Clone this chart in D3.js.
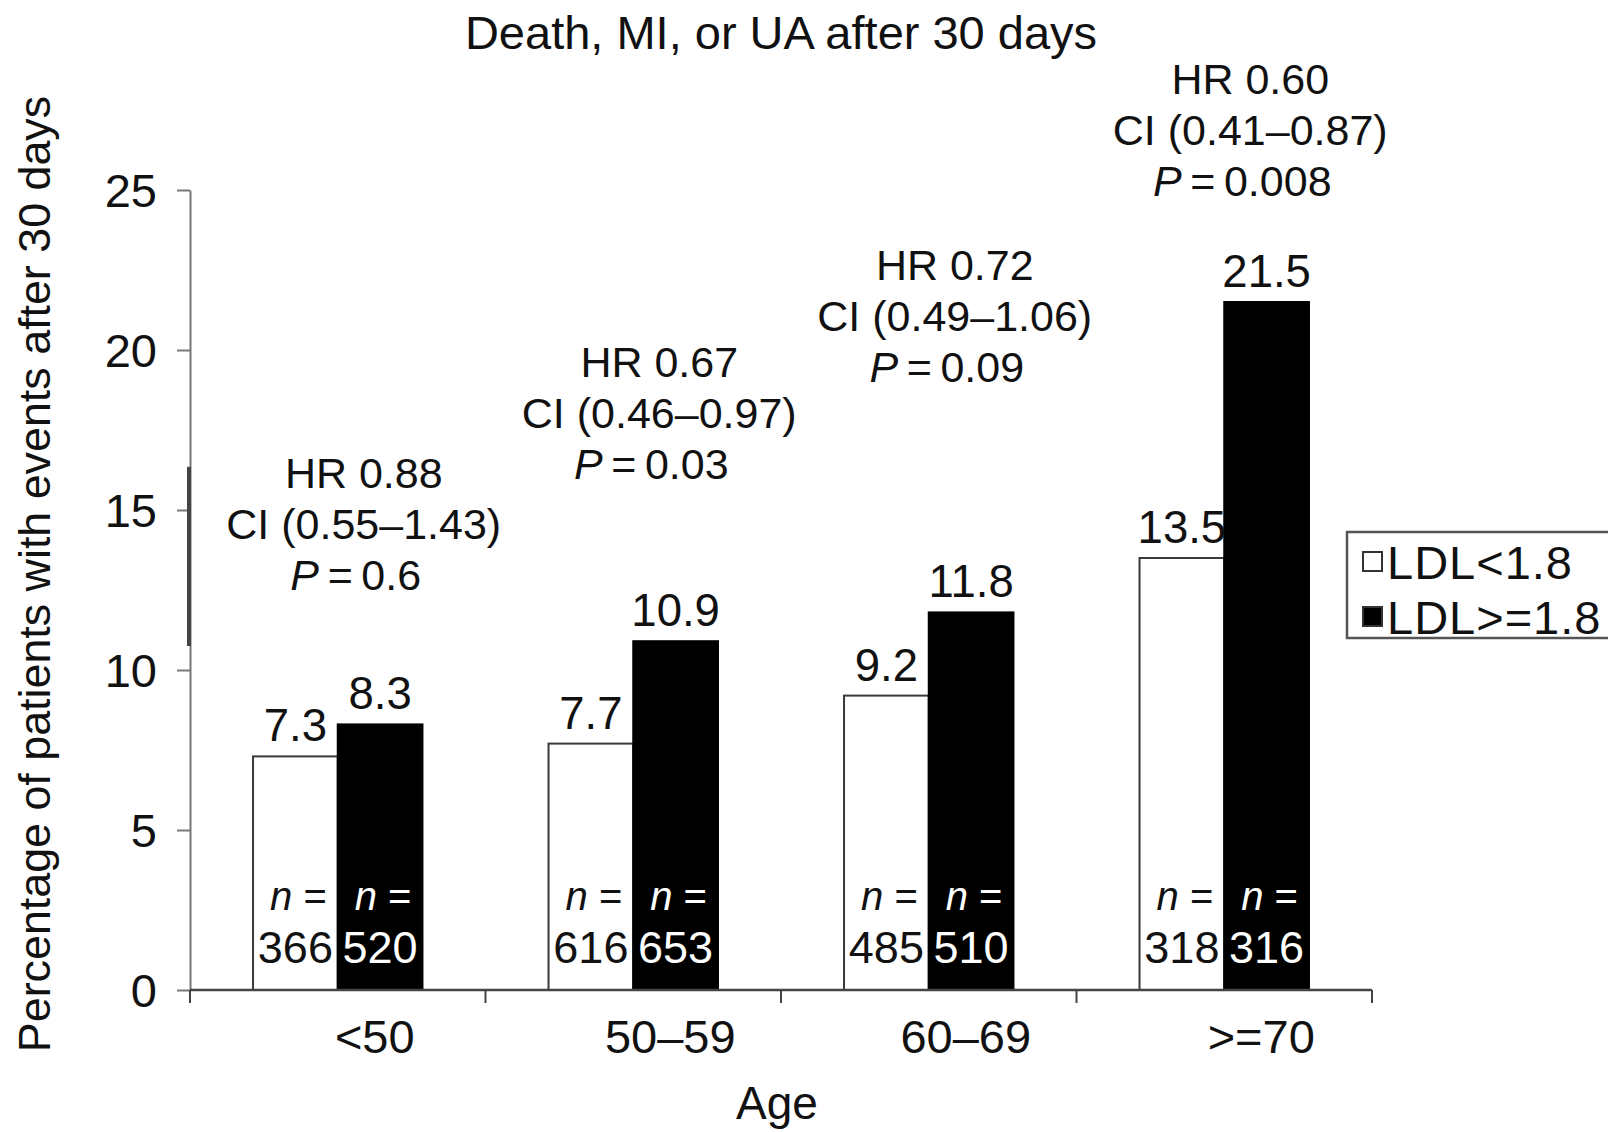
<!DOCTYPE html>
<html>
<head>
<meta charset="utf-8">
<script src="https://cdn.jsdelivr.net/npm/d3@7"></script>
<style>
  body { margin: 0; background: #fff; }
  svg { display: block; font-family: "Liberation Sans", Arial, Helvetica, sans-serif; }
</style>
</head>
<body>
<div id="chart"></div>
<script>
// Data
let ages = ['<50', '50\u201359', '60\u201369', '>=70']
let series = ['LDL<1.8', 'LDL>=1.8']
let lowValues = [7.3, 7.7, 9.2, 13.5]
let highValues = [8.3, 10.9, 11.8, 21.5]
let lowN = [366, 616, 485, 318]
let highN = [520, 653, 510, 316]
let hrText = ['HR 0.88', 'HR 0.67', 'HR 0.72', 'HR 0.60']
let ciText = ['CI (0.55\u20131.43)', 'CI (0.46\u20130.97)', 'CI (0.49\u20131.06)', 'CI (0.41\u20130.87)']
let pText = ['0.6', '0.03', '0.09', '0.008']
let yTicks = [0, 5, 10, 15, 20, 25]

// Where each HR/CI/P block sits, in data units of the y axis
let noteLevel = [15.7, 19.15, 22.2, 28.0]

let size = { width: 1608, height: 1132 }
let plot = { left: 190, right: 1372, top: 190, bottom: 990 }

let svg = d3.select('#chart').append('svg')
  .attr('width', size.width)
  .attr('height', size.height)

// Scales
let x0 = d3.scaleBand()
  .domain(ages)
  .range([plot.left, plot.right])
  .padding(0)
let x1 = d3.scaleBand()
  .domain(series)
  .range([0, x0.bandwidth()])
  .paddingInner(0)
  .paddingOuter(0.744)
let y = d3.scaleLinear()
  .domain([0, 25])
  .range([plot.bottom, plot.top])

let rows = ages.map((age, i) => ({
  age,
  bars: [
    { key: series[0], value: lowValues[i], n: lowN[i] },
    { key: series[1], value: highValues[i], n: highN[i] }
  ]
}))

// Title
svg.append('text')
  .attr('x', 781)
  .attr('y', 49)
  .attr('text-anchor', 'middle')
  .style('font-size', '47px')
  .attr('fill', '#111')
  .text('Death, MI, or UA after 30 days')

// Bars
let group = svg.selectAll('.group')
  .data(rows)
  .enter()
  .append('g')
  .attr('class', 'group')
  .attr('transform', d => `translate(${x0(d.age)}, 0)`)

group.selectAll('rect')
  .data(d => d.bars)
  .enter()
  .append('rect')
  .attr('x', d => x1(d.key))
  .attr('width', x1.bandwidth())
  .attr('y', d => y(d.value))
  .attr('height', d => y(0) - y(d.value))
  .attr('fill', d => d.key === series[0] ? '#fff' : '#000')
  .attr('stroke', d => d.key === series[0] ? '#3a3a3a' : '#000')
  .attr('stroke-width', 2)

// Value labels above bars
group.selectAll('.value')
  .data(d => d.bars)
  .enter()
  .append('text')
  .attr('class', 'value')
  .attr('x', d => x1(d.key) + x1.bandwidth() / 2)
  .attr('y', d => y(d.value) - 15)
  .attr('text-anchor', 'middle')
  .style('font-size', '45.5px')
  .attr('fill', '#111')
  .text(d => d.value.toFixed(1))

// n = ... inside bars
let nText = group.selectAll('.nlab')
  .data(d => d.bars)
  .enter()
  .append('text')
  .attr('class', 'nlab')
  .attr('text-anchor', 'middle')
  .style('font-size', '40px')
  .attr('fill', d => d.key === series[0] ? '#111' : '#fff')

nText.append('tspan')
  .attr('x', d => x1(d.key) + x1.bandwidth() / 2 + 3)
  .attr('y', 910)
  .style('font-style', 'italic')
  .text('n')
nText.append('tspan')
  .text(' =')
nText.append('tspan')
  .attr('x', d => x1(d.key) + x1.bandwidth() / 2)
  .attr('y', 963)
  .style('font-size', '45px')
  .text(d => d.n)

// HR / CI / P annotations
let note = svg.selectAll('.note')
  .data(rows)
  .enter()
  .append('text')
  .attr('class', 'note')
  .attr('text-anchor', 'middle')
  .style('font-size', '43px')
  .attr('fill', '#111')

let noteX = (d) => x0(d.age) + x0.bandwidth() / 2 + 26

note.append('tspan')
  .attr('x', noteX)
  .attr('y', (d, i) => y(noteLevel[i]))
  .text((d, i) => hrText[i])
note.append('tspan')
  .attr('x', noteX)
  .attr('y', (d, i) => y(noteLevel[i]) + 51)
  .text((d, i) => ciText[i])
note.append('tspan')
  .attr('x', (d, i) => noteX(d) - 8)
  .attr('y', (d, i) => y(noteLevel[i]) + 102)
  .style('font-style', 'italic')
  .text('P')
note.append('tspan')
  .text((d, i) => '\u2009=\u2009' + pText[i])

// Y axis
let yAxis = svg.append('g')
  .attr('transform', `translate(${plot.left}, 0)`)
  .call(d3.axisLeft(y).tickValues(yTicks).tickSize(13).tickPadding(20).tickSizeOuter(0))
yAxis.select('.domain').attr('stroke', '#777').attr('stroke-width', 2)
yAxis.selectAll('.tick line').attr('stroke', '#777').attr('stroke-width', 2)
yAxis.selectAll('.tick text')
  .attr('dy', '0.36em')
  .style('font-size', '47px')
  .style('font-family', '"Liberation Sans", Arial, sans-serif')
  .attr('fill', '#111')

// darker stretch on the y axis, as in the scan
svg.append('line')
  .attr('x1', plot.left - 1)
  .attr('x2', plot.left - 1)
  .attr('y1', y(16.35))
  .attr('y2', y(10.75))
  .attr('stroke', '#444')
  .attr('stroke-width', 4)

// X axis
let xAxis = svg.append('g')
  .attr('transform', `translate(0, ${plot.bottom})`)
  .call(d3.axisBottom(x0).tickSize(0).tickPadding(0))
xAxis.select('.domain').remove()
xAxis.selectAll('.tick text')
  .attr('dx', 37)
  .attr('y', 63)
  .attr('dy', 0)
  .style('font-size', '47px')
  .style('font-family', '"Liberation Sans", Arial, sans-serif')
  .attr('fill', '#111')

let edges = [x0.range()[0]].concat(ages.map(a => x0(a) + x0.bandwidth()))
xAxis.append('line')
  .attr('x1', plot.left)
  .attr('x2', plot.right)
  .attr('stroke', '#444')
  .attr('stroke-width', 2.5)
xAxis.selectAll('.edge')
  .data(edges)
  .enter()
  .append('line')
  .attr('class', 'edge')
  .attr('x1', d => d)
  .attr('x2', d => d)
  .attr('y1', 0)
  .attr('y2', 13)
  .attr('stroke', '#444')
  .attr('stroke-width', 2)

// Axis titles
svg.append('text')
  .attr('x', 777)
  .attr('y', 1119)
  .attr('text-anchor', 'middle')
  .style('font-size', '46px')
  .attr('fill', '#111')
  .text('Age')

svg.append('text')
  .attr('transform', 'translate(50, 574) rotate(-90)')
  .attr('text-anchor', 'middle')
  .style('font-size', '44.8px')
  .attr('fill', '#111')
  .text('Percentage of patients with events after 30 days')

// Legend
let legend = svg.append('g')
  .attr('transform', 'translate(1347, 532)')
legend.append('rect')
  .attr('width', 300)
  .attr('height', 106)
  .attr('fill', '#fff')
  .attr('stroke', '#555')
  .attr('stroke-width', 2.5)

let item = legend.selectAll('.item')
  .data(series)
  .enter()
  .append('g')
  .attr('class', 'item')
  .attr('transform', (d, i) => `translate(16, ${20 + i * 55})`)
item.append('rect')
  .attr('width', 19)
  .attr('height', 19)
  .attr('fill', (d, i) => i === 0 ? '#fff' : '#000')
  .attr('stroke', '#333')
  .attr('stroke-width', 2)
item.append('text')
  .attr('x', 24)
  .attr('y', 27)
  .style('font-size', '47px')
  .style('letter-spacing', '1px')
  .attr('fill', '#111')
  .text(d => d)
</script>
</body>
</html>
